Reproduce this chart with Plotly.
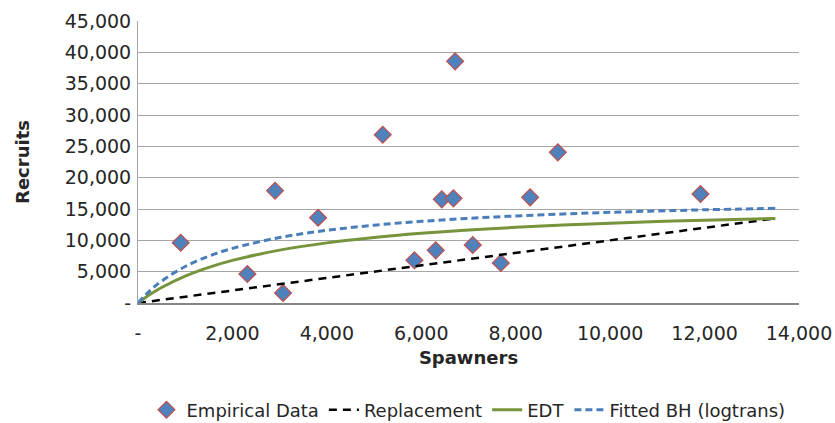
import plotly.graph_objects as go

# Empirical data
spawners = [904, 2316, 2903, 3072, 3814, 5184, 5855, 6306, 6434, 6681, 6716, 7090, 7684, 8305, 8892, 11913]
recruits = [9620, 4630, 17920, 1600, 13610, 26860, 6810, 8400, 16540, 16700, 38560, 9250, 6380, 16860, 24040, 17390]

# Replacement line
repl_s = [0, 13500]
repl_r = [0, 13500]

# Curves
curve_s = [0, 250, 500, 1000, 1500, 2000, 3000, 4000, 5000, 6000, 7000, 8000, 9000, 10000, 11000, 12000, 13500]
edt_r = [0, 1338, 2474, 4295, 5693, 6798, 8437, 9594, 10453, 11118, 11646, 12077, 12434, 12736, 12994, 13217, 13498]
bh_r = [0, 1945, 3498, 5821, 7475, 8714, 10444, 11595, 12416, 13032, 13507, 13890, 14203, 14463, 14684, 14872, 15110]

x_ticks = [0, 2000, 4000, 6000, 8000, 10000, 12000, 14000]
x_labels = ["-", "2,000", "4,000", "6,000", "8,000", "10,000", "12,000", "14,000"]
y_ticks = [0, 5000, 10000, 15000, 20000, 25000, 30000, 35000, 40000, 45000]
y_labels = ["-", "5,000", "10,000", "15,000", "20,000", "25,000", "30,000", "35,000", "40,000", "45,000"]

FONT = "DejaVu Sans, sans-serif"

fig = go.Figure()
fig.add_trace(go.Scatter(
    x=spawners, y=recruits, mode="markers", name="Empirical Data",
    marker=dict(symbol="diamond", size=13, color="#4f81bd",
                line=dict(color="#c0504d", width=1.2)),
))
fig.add_trace(go.Scatter(
    x=repl_s, y=repl_r, mode="lines", name="Replacement",
    line=dict(color="black", width=2.5, dash="8px,6px"),
))
fig.add_trace(go.Scatter(
    x=curve_s, y=edt_r, mode="lines", name="EDT", line_shape="spline",
    line=dict(color="#77933c", width=3),
))
fig.add_trace(go.Scatter(
    x=curve_s, y=bh_r, mode="lines", name="Fitted BH (logtrans)", line_shape="spline",
    line=dict(color="#4a7ebb", width=3, dash="7px,4px"),
))

fig.update_layout(
    width=835, height=423,
    margin=dict(l=138, r=36, t=21, b=120),
    paper_bgcolor="white", plot_bgcolor="white",
    font=dict(family=FONT, size=18, color="#262626"),
    showlegend=True,
    legend=dict(orientation="h", x=0.5, xanchor="center",
                yref="container", y=1 - 410 / 423, yanchor="middle",
                font=dict(size=18), itemwidth=30, traceorder="normal"),
)
fig.update_xaxes(
    range=[0, 14000], tickvals=x_ticks, ticktext=x_labels,
    showgrid=False, zeroline=False, automargin=False,
    showline=True, linecolor="#868686", linewidth=2,
    ticks="", ticklen=0, ticklabelstandoff=12, tickfont=dict(size=19),
    title=dict(text="<b>Spawners</b>", font=dict(size=18), standoff=9),
)
fig.update_yaxes(
    range=[0, 45000], tickvals=y_ticks, ticktext=y_labels,
    showgrid=True, gridcolor="#a6a6a6", gridwidth=1.3, zeroline=False, automargin=False,
    showline=True, linecolor="#a6a6a6", linewidth=1,
    ticks="", ticklen=0, ticklabelstandoff=2, tickfont=dict(size=19),
    title=dict(text="<b>Recruits</b>", font=dict(size=18), standoff=30),
)

fig.write_html("out.html", config={"displayModeBar": False},
               post_script="document.body.style.margin='0px';")
